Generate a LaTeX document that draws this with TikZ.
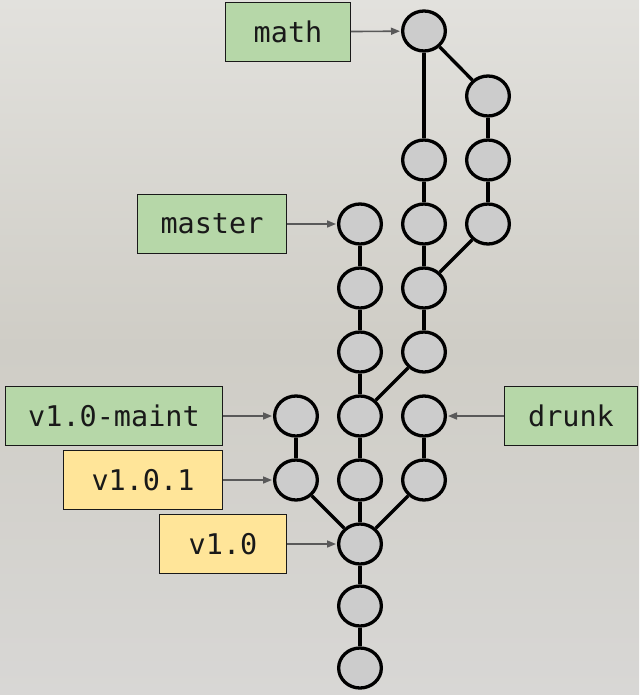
\documentclass[tikz,border=0pt]{standalone}
\usepackage{fontspec}
\newfontfamily\monofont{DejaVu Sans Mono}
\usetikzlibrary{shapes.geometric,arrows.meta}
\definecolor{bgtop}{HTML}{E2E1DD}
\definecolor{bgmid}{HTML}{CFCDC6}
\definecolor{bgbot}{HTML}{D8D7D5}
\definecolor{commitfill}{HTML}{CCCCCC}
\definecolor{brgreen}{HTML}{B6D7A8}
\definecolor{tagyellow}{HTML}{FFE599}
\definecolor{ptrgray}{HTML}{595959}
\tikzset{
  commit/.style={ellipse, draw=black, line width=3.3pt, fill=commitfill, minimum width=42.7pt, minimum height=40pt, inner sep=0pt},
  link/.style={draw=black, line width=3.3pt},
  lbl/.style={rectangle, draw=black!90, line width=1.3pt, minimum height=58.5pt, inner sep=0pt, font=\monofont\fontsize{28.5}{32}\selectfont, text=black!90},
  branch/.style={lbl, fill=brgreen},
  tagbox/.style={lbl, fill=tagyellow},
  ptr/.style={draw=ptrgray, line width=1.6pt, -{Triangle[length=9pt,width=7pt]}, shorten >=1pt}
}
\begin{document}
\begin{tikzpicture}[x=1pt,y=-1pt]
\useasboundingbox (0,0) rectangle (639,695);
\shade[top color=bgtop, bottom color=bgbot, middle color=bgmid] (0,0) rectangle (639,695);
% commits
\node[commit] (m0) at (424,31) {};
\node[commit] (b1) at (488,96) {};
\node[commit] (b2) at (488,160) {};
\node[commit] (b3) at (488,224) {};
\node[commit] (a2) at (424,160) {};
\node[commit] (a3) at (424,224) {};
\node[commit] (a4) at (424,288) {};
\node[commit] (a5) at (424,352) {};
\node[commit] (d6) at (424,416) {};
\node[commit] (d7) at (424,480) {};
\node[commit] (c3) at (360,224) {};
\node[commit] (c4) at (360,288) {};
\node[commit] (c5) at (360,352) {};
\node[commit] (c6) at (360,416) {};
\node[commit] (c7) at (360,480) {};
\node[commit] (c8) at (360,544) {};
\node[commit] (c9) at (360,606) {};
\node[commit] (c10) at (360,668) {};
\node[commit] (v6) at (296,416) {};
\node[commit] (v7) at (296,480) {};
% links
\path[link] (m0) -- (a2);
\path[link] (m0) -- (b1);
\path[link] (b1) -- (b2);
\path[link] (b2) -- (b3);
\path[link] (b3) -- (a4);
\path[link] (a2) -- (a3);
\path[link] (a3) -- (a4);
\path[link] (a4) -- (a5);
\path[link] (a5) -- (c6);
\path[link] (c3) -- (c4);
\path[link] (c4) -- (c5);
\path[link] (c5) -- (c6);
\path[link] (c6) -- (c7);
\path[link] (c7) -- (c8);
\path[link] (c8) -- (c9);
\path[link] (c9) -- (c10);
\path[link] (v6) -- (v7);
\path[link] (v7) -- (c8);
\path[link] (d6) -- (d7);
\path[link] (d7) -- (c8);
% labels
\node[branch, minimum width=124.5pt] (lmath) at (288,32) {math};
\node[branch, minimum width=148.5pt] (lmaster) at (212,224) {master};
\node[branch, minimum width=216.5pt] (lmaint) at (114,416) {v1.0-maint};
\node[branch, minimum width=132.5pt] (ldrunk) at (571,416) {drunk};
\node[tagbox, minimum width=158.5pt] (l101) at (143,480) {v1.0.1};
\node[tagbox, minimum width=126.5pt] (l10) at (223,544) {v1.0};
% pointers
\draw[ptr] (lmath) -- (m0);
\draw[ptr] (lmaster) -- (c3);
\draw[ptr] (lmaint) -- (v6);
\draw[ptr] (ldrunk) -- (d6);
\draw[ptr] (l101) -- (v7);
\draw[ptr] (l10) -- (c8);
\end{tikzpicture}
\end{document}
